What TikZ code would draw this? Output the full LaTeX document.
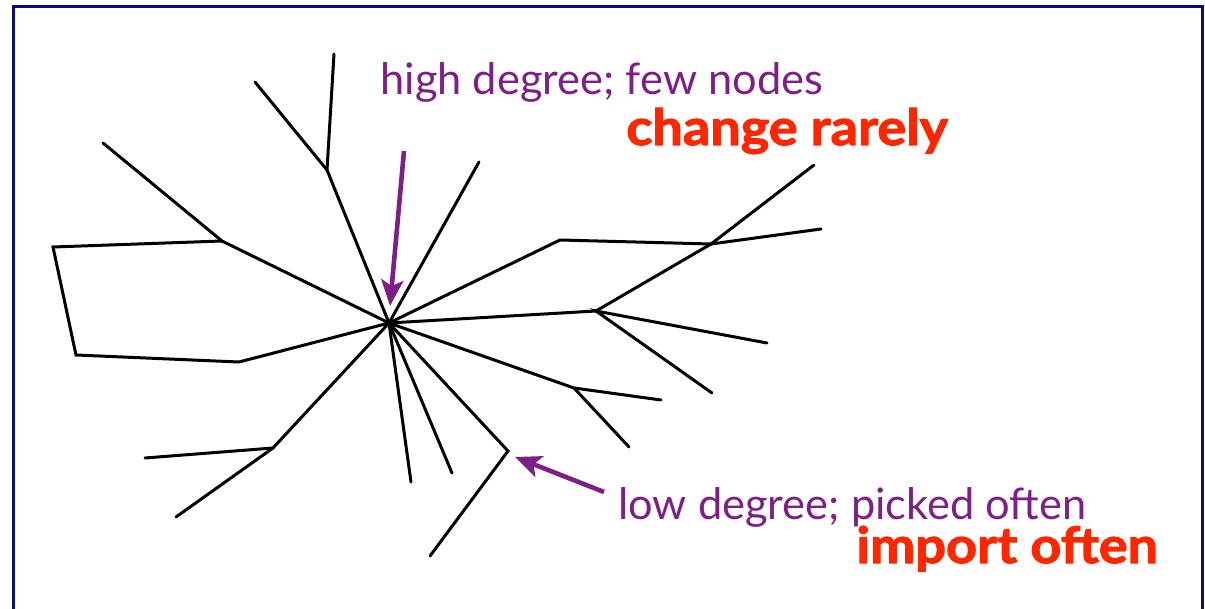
\documentclass[tikz,border=0pt]{standalone}
\usepackage{fontspec}
\setmainfont{Lato}
\newfontfamily\heavyfont{Lato}[BoldFeatures={FakeBold=2.2,FakeStretch=1.08}]
\usepackage{tikz}
\usetikzlibrary{arrows.meta}
\definecolor{tnavy}{RGB}{10,10,132}
\definecolor{tpurple}{RGB}{126,31,134}
\definecolor{tred}{RGB}{255,38,0}
\tikzset{
  edge/.style  ={draw=black, line width=1.5pt, line cap=round, line join=miter},
  note/.style  ={anchor=base west, inner sep=0pt, text=tpurple, font=\fontsize{21.7}{24}\selectfont},
  hot/.style   ={anchor=base west, inner sep=0pt, text=tred, font=\heavyfont\fontsize{25}{28}\selectfont\bfseries},
  pointer/.style={-{Stealth[length=13pt,width=11pt,inset=3pt]}, draw=tpurple, line width=2.3pt}
}

\begin{document}
\begin{tikzpicture}[x=0.5pt,y=-0.5pt]
\useasboundingbox (0,0) rectangle (1205,609);
\clip (0,0) rectangle (1205,609);
\draw[tnavy, line width=1.5pt] (13,7) rectangle (1202,640);

% tree nodes
\coordinate (hub) at (389,323);
\coordinate (a)  at (327,170);
\coordinate (a1) at (334,54);
\coordinate (a2) at (255,82);
\coordinate (b)  at (222,241);
\coordinate (b1) at (103,143);
\coordinate (b2) at (53,247);
\coordinate (b3) at (76,355);
\coordinate (b4) at (239,362);
\coordinate (c)  at (479,162);
\coordinate (d)  at (560,240);
\coordinate (e)  at (711,244);
\coordinate (e1) at (814,165);
\coordinate (e2) at (821,229);
\coordinate (p)  at (596,311);
\coordinate (p1) at (767,343);
\coordinate (p2) at (712,393);
\coordinate (q)  at (574,388);
\coordinate (q1) at (661,400);
\coordinate (q2) at (629,447);
\coordinate (r)  at (508,451);
\coordinate (r1) at (430,556);
\coordinate (s)  at (273,448);
\coordinate (s1) at (145,458);
\coordinate (s2) at (176,517);
\coordinate (t1) at (411,482);
\coordinate (t2) at (452,473);

\draw[edge] (a1) -- (a) -- (hub);
\draw[edge] (a2) -- (a);
\draw[edge] (b1) -- (b) -- (hub);
\draw[edge] (b) -- (b2) -- (b3) -- (b4) -- (hub);
\draw[edge] (c) -- (hub);
\draw[edge] (hub) -- (d) -- (e) -- (e1);
\draw[edge] (e2) -- (e) -- (p) -- (hub);
\draw[edge] (p1) -- (p) -- (p2);
\draw[edge] (hub) -- (q) -- (q1);
\draw[edge] (q) -- (q2);
\draw[edge] (hub) -- (r) -- (r1);
\draw[edge] (s1) -- (s) -- (hub);
\draw[edge] (s) -- (s2);
\draw[edge] (hub) -- (t1);
\draw[edge] (hub) -- (t2);

% labels
\node[note] (hi) at (380,95) {high degree; few nodes};
\node[hot]  (hiR) at (626,145) {change rarely};
\node[note] (lo) at (618,519) {low degree; picked often};
\node[hot]  (loR) at (856,563) {import often};

\coordinate (hiTail) at (404,151);
\coordinate (hiTip)  at (390,306);
\coordinate (loTail) at (604,492);
\coordinate (loTip)  at (515,457);
\draw[pointer] (hiTail) -- (hiTip);
\draw[pointer] (loTail) -- (loTip);
\end{tikzpicture}
\end{document}
